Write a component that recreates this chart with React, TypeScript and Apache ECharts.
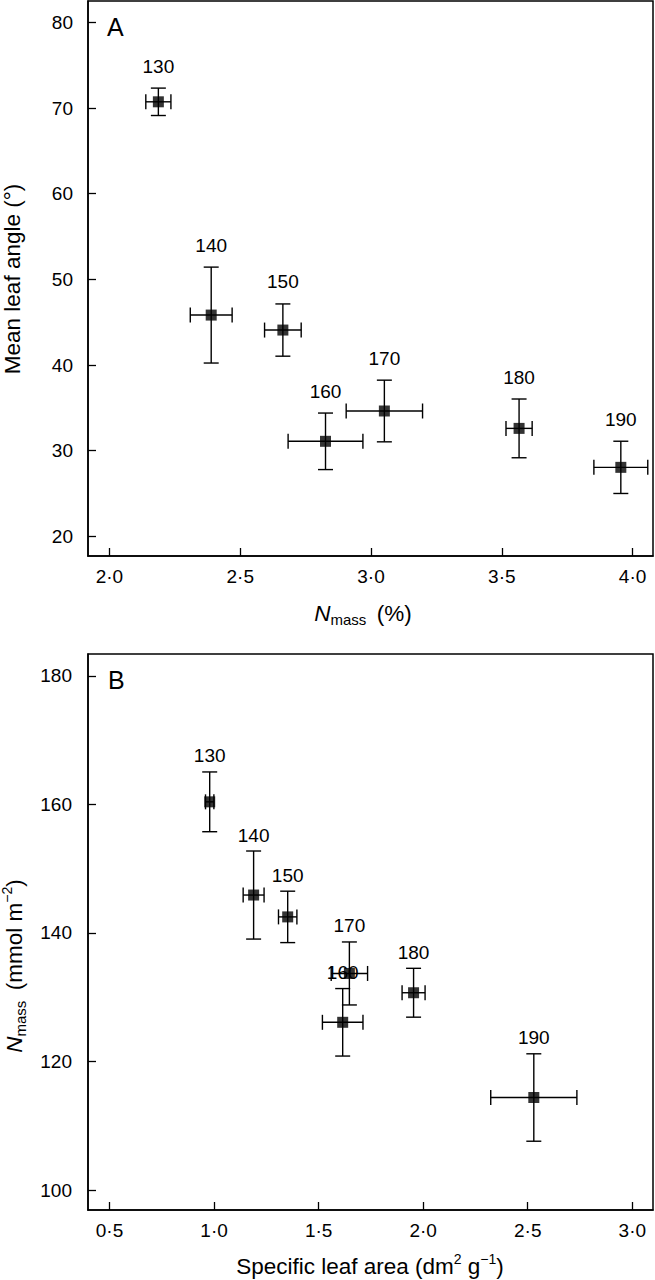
import React, { useEffect, useRef } from "react";
import * as echarts from "echarts";

// Treatment labels
const treatments = ["130", "140", "150", "160", "170", "180", "190"];

// Panel A: N mass (%) vs mean leaf angle (°)
const nMassA = [2.187, 2.389, 2.663, 2.826, 3.051, 3.566, 3.955];
const nMassErrA = [0.048, 0.08, 0.07, 0.143, 0.146, 0.05, 0.103];
const leafAngle = [70.73, 45.83, 44.08, 31.09, 34.63, 32.6, 28.05];
const leafAngleErr = [1.6, 5.6, 3.05, 3.3, 3.6, 3.43, 3.05];

// Panel B: specific leaf area vs N mass (mmol m-2)
const sla = [0.979, 1.189, 1.352, 1.615, 1.647, 1.954, 2.529];
const slaErr = [0.02, 0.05, 0.044, 0.097, 0.087, 0.055, 0.206];
const nMassB = [160.4, 145.9, 142.5, 126.1, 133.7, 130.7, 114.4];
const nMassErrB = [4.65, 6.85, 4.0, 5.25, 4.9, 3.8, 6.8];

// Tick values
const xTicksA = [2.0, 2.5, 3.0, 3.5, 4.0];
const yTicksA = [20, 30, 40, 50, 60, 70, 80];
const xTicksB = [0.5, 1.0, 1.5, 2.0, 2.5, 3.0];
const yTicksB = [100, 120, 140, 160, 180];

const FONT = '"Liberation Sans", Arial, Helvetica, sans-serif';
const FS = 19;
const TFS = 22.5;

function dotFmt(v: number) {
  return v.toFixed(1).replace(".", "·");
}

function makeErrSeries(xs: number[], xe: number[], ys: number[], ye: number[], idx: number, labelOff: number) {
  const data = xs.map((x, i) => [x, ys[i], xe[i], ye[i]]);
  return {
    type: "custom",
    xAxisIndex: idx,
    yAxisIndex: idx,
    data,
    z: 2,
    renderItem: (params: any, api: any) => {
      const x = api.value(0);
      const y = api.value(1);
      const dx = api.value(2);
      const dy = api.value(3);
      const lab = treatments[params.dataIndex];
      const c = api.coord([x, y]);
      const top = api.coord([x, y + dy]);
      const bot = api.coord([x, y - dy]);
      const lft = api.coord([x - dx, y]);
      const rgt = api.coord([x + dx, y]);
      const cap = 7.5;
      const st = { stroke: "#000", lineWidth: 1.4 };
      return {
        type: "group",
        children: [
          { type: "line", shape: { x1: c[0], y1: top[1], x2: c[0], y2: bot[1] }, style: st },
          { type: "line", shape: { x1: c[0] - cap, y1: top[1], x2: c[0] + cap, y2: top[1] }, style: st },
          { type: "line", shape: { x1: c[0] - cap, y1: bot[1], x2: c[0] + cap, y2: bot[1] }, style: st },
          { type: "line", shape: { x1: lft[0], y1: c[1], x2: rgt[0], y2: c[1] }, style: st },
          { type: "line", shape: { x1: lft[0], y1: c[1] - cap, x2: lft[0], y2: c[1] + cap }, style: st },
          { type: "line", shape: { x1: rgt[0], y1: c[1] - cap, x2: rgt[0], y2: c[1] + cap }, style: st },
          {
            type: "text",
            x: c[0],
            y: top[1] - labelOff,
            style: { text: lab, fill: "#000", fontSize: FS, fontFamily: FONT, align: "center", verticalAlign: "middle" },
          },
        ],
      };
    },
  };
}

function axisCommon(ticks: number[], fmt: (v: number) => string, margin: number) {
  return {
    type: "value",
    axisLine: { show: true, onZero: false, lineStyle: { color: "#000", width: 1.5 } },
    axisTick: { show: true, inside: true, length: 8, customValues: ticks, lineStyle: { color: "#000", width: 1.3 } },
    axisLabel: { show: true, customValues: ticks, formatter: fmt, color: "#000", fontSize: FS, fontFamily: FONT, margin },
    splitLine: { show: false },
  };
}

export default function App() {
  const ref = useRef<HTMLDivElement>(null);
  useEffect(() => {
    if (!ref.current) return;
    const chart = echarts.init(ref.current, undefined, { renderer: "svg" });
    const rich = {
      n: { fontStyle: "italic", fontSize: TFS, fontFamily: FONT, fill: "#000", lineHeight: 28 },
      s: { fontSize: 15, fontFamily: FONT, fill: "#000", verticalAlign: "bottom", lineHeight: 15 },
      t: { fontSize: TFS, fontFamily: FONT, fill: "#000", lineHeight: 28 },
      p: { fontSize: 14, fontFamily: FONT, fill: "#000", verticalAlign: "top", lineHeight: 16 },
    };
    chart.setOption({
      animation: false,
      backgroundColor: "#fff",
      grid: [
        { left: 88, top: 1, width: 565, height: 555, show: true, borderColor: "#000", borderWidth: 1.5, backgroundColor: "transparent" },
        { left: 88, top: 654, width: 565, height: 556, show: true, borderColor: "#000", borderWidth: 1.5, backgroundColor: "transparent" },
      ],
      xAxis: [
        { ...axisCommon(xTicksA, dotFmt, 11), gridIndex: 0, min: 1.918, max: 4.078 },
        { ...axisCommon(xTicksB, dotFmt, 11), gridIndex: 1, min: 0.397, max: 3.099 },
      ],
      yAxis: [
        { ...axisCommon(yTicksA, (v: number) => String(v), 15), gridIndex: 0, min: 17.7, max: 82.5 },
        { ...axisCommon(yTicksB, (v: number) => String(v), 16), gridIndex: 1, min: 96.9, max: 183.4 },
      ],
      series: [
        makeErrSeries(nMassA, nMassErrA, leafAngle, leafAngleErr, 0, 22),
        {
          type: "scatter",
          xAxisIndex: 0,
          yAxisIndex: 0,
          symbol: "rect",
          symbolSize: 11,
          itemStyle: { color: "#000" },
          z: 3,
          data: nMassA.map((x, i) => [x, leafAngle[i]]),
        },
        makeErrSeries(sla, slaErr, nMassB, nMassErrB, 1, 16),
        {
          type: "scatter",
          xAxisIndex: 1,
          yAxisIndex: 1,
          symbol: "rect",
          symbolSize: 11,
          itemStyle: { color: "#000" },
          z: 3,
          data: sla.map((x, i) => [x, nMassB[i]]),
        },
      ],
      graphic: [
        { type: "text", x: 107, y: 27, style: { text: "A", fontSize: 25, fontFamily: FONT, fill: "#000", align: "left", verticalAlign: "middle" } },
        { type: "text", x: 108, y: 680, style: { text: "B", fontSize: 25, fontFamily: FONT, fill: "#000", align: "left", verticalAlign: "middle" } },
        {
          type: "text", x: 12, y: 279, rotation: Math.PI / 2,
          style: { text: "Mean leaf angle (°)", fontSize: TFS, fontFamily: FONT, fill: "#000", align: "center", verticalAlign: "middle" },
        },
        {
          type: "text", x: 363, y: 613,
          style: { text: "{n|N}{s|mass }{t| (%)}", rich, align: "center", verticalAlign: "middle" },
        },
        {
          type: "text", x: 14, y: 966, rotation: Math.PI / 2,
          style: { text: "{n|N}{s|mass }{t| (mmol m}{p|−2}{t|)}", rich, align: "center", verticalAlign: "middle" },
        },
        {
          type: "text", x: 370, y: 1266,
          style: { text: "{t|Specific leaf area (dm}{p|2}{t| g}{p|−1}{t|)}", rich, align: "center", verticalAlign: "middle" },
        },
      ],
    });
    return () => chart.dispose();
  }, []);
  return <div ref={ref} style={{ position: "absolute", left: 0, top: 0, width: 655, height: 1280 }} />;
}
